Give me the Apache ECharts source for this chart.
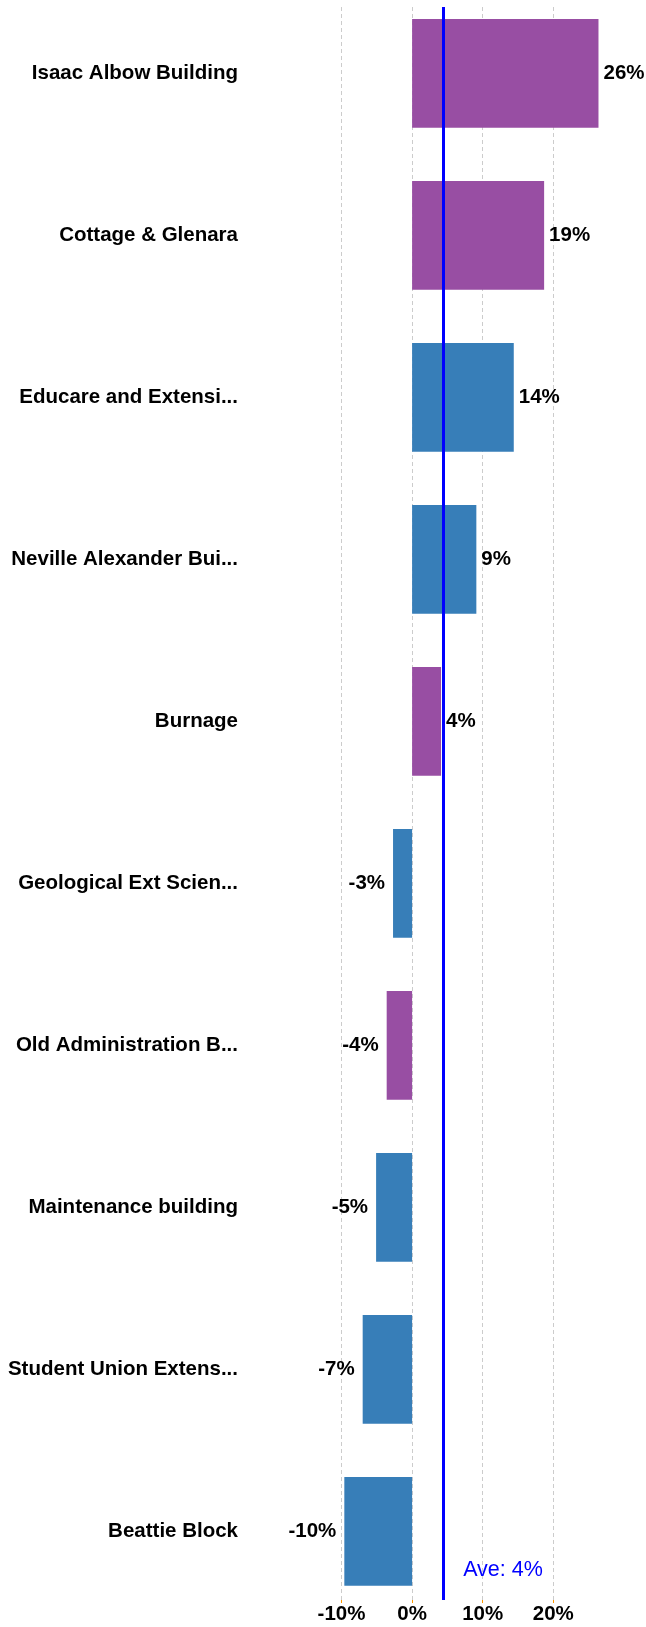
<!DOCTYPE html>
<html>
<head>
<meta charset="utf-8">
<script src="https://cdn.jsdelivr.net/npm/echarts@6/dist/echarts.min.js"></script>
<style>
html,body{margin:0;padding:0;background:#fff;}
#chart{width:646px;height:1627px;}
</style>
</head>
<body>
<div id="chart"></div>
<script>
// ---- data ----
const categories = [
  'Isaac Albow Building',
  'Cottage & Glenara',
  'Educare and Extensi...',
  'Neville Alexander Bui...',
  'Burnage',
  'Geological Ext Scien...',
  'Old Administration B...',
  'Maintenance building',
  'Student Union Extens...',
  'Beattie Block'
];
const values = [26.4, 18.7, 14.4, 9.1, 4.1, -2.7, -3.6, -5.1, -7.0, -9.6];
const groups = ['A', 'A', 'B', 'B', 'A', 'B', 'A', 'B', 'B', 'B'];
const average = 4.4;
const xMin = -10, xMax = 27, xInterval = 10, xLastTick = 20;

// ---- styles ----
const groupColors = { A: '#984ea3', B: '#377eb8' };
const FONT = 'Liberation Sans, Arial, sans-serif';
const pct = v => (v < 0 ? '-' : '') + Math.abs(v).toFixed(0) + '%';

const W = 646, plotLeft = 341.5, pxPerUnit = 7.06;
const rightFor = max => W - (plotLeft + (max - xMin) * pxPerUnit);

const chart = echarts.init(document.getElementById('chart'), null, { renderer: 'canvas' });

const barData = values.map((v, i) => ({
  value: v,
  itemStyle: { color: groupColors[groups[i]] },
  label: v < 0 ? { position: 'left', distance: 8 } : { position: 'right', distance: 5 }
}));

const option = {
  animation: false,
  backgroundColor: '#ffffff',
  grid: [
    { left: plotLeft, right: rightFor(xMax), top: -7.7, height: 1620, containLabel: false, outerBoundsMode: 'none' },
    { left: plotLeft, right: rightFor(xLastTick), top: 7, height: 1593, containLabel: false, outerBoundsMode: 'none' }
  ],
  xAxis: [
    {
      gridIndex: 0, type: 'value', min: xMin, max: xMax, interval: xInterval,
      show: false
    },
    {
      gridIndex: 1, type: 'value', min: xMin, max: xLastTick, interval: xInterval,
      axisLine: { show: false },
      axisTick: { show: true, length: 3, lineStyle: { color: '#ff9900', width: 1 } },
      splitLine: { show: true, lineStyle: { color: '#cccccc', type: [4, 3], width: 1 } },
      axisLabel: {
        margin: 4, color: '#000', fontFamily: FONT, fontWeight: 'bold', fontSize: 20.5,
        formatter: v => v + '%'
      }
    }
  ],
  yAxis: [
    {
      gridIndex: 0, type: 'category', data: categories, inverse: true,
      axisLine: { show: false }, axisTick: { show: false }, splitLine: { show: false },
      axisLabel: {
        margin: 103.5, color: '#000', fontFamily: FONT, fontWeight: 'bold', fontSize: 20.5,
        align: 'right'
      }
    },
    {
      gridIndex: 1, type: 'value', min: 0, max: 1, show: false
    }
  ],
  series: [
    {
      type: 'bar', xAxisIndex: 0, yAxisIndex: 0,
      data: barData,
      barCategoryGap: '32.9%',
      label: {
        show: true, color: '#000', fontFamily: FONT, fontWeight: 'bold', fontSize: 20.5,
        formatter: p => pct(p.value)
      },
      z: 2
    },
    {
      type: 'line', xAxisIndex: 1, yAxisIndex: 1, data: [],
      markLine: {
        silent: true, symbol: 'none', animation: false,
        lineStyle: { color: '#0000ff', width: 3, type: 'solid' },
        label: { show: false },
        data: [{ xAxis: average }]
      },
      markPoint: {
        silent: true, symbol: 'circle', symbolSize: 0, animation: false,
        label: {
          show: true, position: 'right', distance: 20,
          color: '#0000ff', fontFamily: FONT, fontSize: 21.5,
          formatter: () => 'Ave: ' + pct(average)
        },
        data: [{ coord: [average, 0.0188] }]
      },
      z: 5
    }
  ]
};
chart.setOption(option);
</script>
</body>
</html>
